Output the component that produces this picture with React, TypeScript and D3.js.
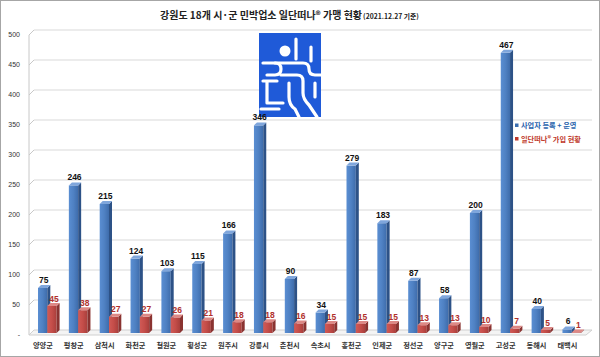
import React from 'react';
import * as d3 from 'd3';

const categories = ['양양군','평창군','삼척시','화천군','철원군','횡성군','원주시','강릉시','춘천시','속초시','홍천군','인제군','정선군','양구군','영월군','고성군','동해시','태백시'];
const registered = [75,246,215,124,103,115,166,346,90,34,279,183,87,58,200,467,40,6];
const members = [45,38,27,27,26,21,18,18,16,15,15,15,13,13,10,7,5,1];
const yTicks = [0,50,100,150,200,250,300,350,400,450,500];
const yTickLabels = ['-','50','100','150','200','250','300','350','400','450','500'];
const seriesNames = ['사업자 등록 + 운영', '일단떠나® 가입 현황'];

const W = 600, H = 357;
const DX = 3, DY = 3;

function Bar3D({ x, w, y0, y1, front, side, top, gid }: any) {
  const h = y0 - y1;
  return (
    <g>
      <rect x={x} y={y1} width={w} height={h} fill={`url(#${gid})`} />
      <path d={`M${x + w},${y1} L${x + w + DX},${y1 - DY} L${x + w + DX},${y0 - DY} L${x + w},${y0} Z`} fill={side} />
      <path d={`M${x},${y1} L${x + DX},${y1 - DY} L${x + w + DX},${y1 - DY} L${x + w},${y1} Z`} fill={top} />
    </g>
  );
}

export default function App() {
  const x = d3.scaleBand<string>().domain(categories).range([27.5, 27.5 + 30.85 * 18]);
  const y = d3.scaleLinear().domain([0, 500]).range([333, 33]);
  const font = "'Noto Sans CJK KR', 'Liberation Sans', sans-serif";
  const numFont = "'Liberation Sans', Arial, sans-serif";
  const bw = 9.3;

  return (
    <svg width={W} height={H} style={{ position: 'absolute', left: 0, top: 0, background: '#fff' }}>
      <defs>
        <linearGradient id="gBlue" x1="0" x2="1" y1="0" y2="0">
          <stop offset="0" stopColor="#5a8ed2" />
          <stop offset="0.5" stopColor="#4f81c3" />
          <stop offset="1" stopColor="#3e6cab" />
        </linearGradient>
        <linearGradient id="gRed" x1="0" x2="1" y1="0" y2="0">
          <stop offset="0" stopColor="#d05a56" />
          <stop offset="0.5" stopColor="#c44d49" />
          <stop offset="1" stopColor="#a83f3c" />
        </linearGradient>
      </defs>
      <rect x={0.5} y={0.5} width={W - 1} height={H - 1} fill="#fff" stroke="#a6a6a6" />

      {/* title */}
      <text x={160} y={19} fontFamily={font} fontSize={10} fontWeight="bold" fill="#222">
        강원도 18개 시·군 민박업소 일단떠나® 가맹 현황
        <tspan fontSize={6.8} fontWeight="bold" dx={1}>(2021.12.27 기준)</tspan>
      </text>

      {/* walls / gridlines */}
      <line x1={29} y1={y(500) + 2} x2={29} y2={y(0) + 2} stroke="#c8c8c8" />
      {yTicks.map((t) => (
        <g key={t}>
          <line x1={29} y1={y(t) + 2} x2={34} y2={y(t) - 3} stroke="#c8c8c8" />
          {t > 0 && <line x1={34} y1={y(t) - 3} x2={592} y2={y(t) - 3} stroke="#d9d9d9" />}
        </g>
      ))}
      <path d={`M29,${y(0) + 2} L586,${y(0) + 2} L592,${y(0) - 3} L34,${y(0) - 3} Z`} fill="#f4f4f4" stroke="#d0d0d0" />

      {/* y tick labels */}
      {yTicks.map((t, i) => (
        <text key={t} x={20} y={y(t) + 3.5} textAnchor="end" fontFamily={numFont} fontSize={7} fill="#333">{yTickLabels[i]}</text>
      ))}

      {/* logo */}
      <g transform="translate(259,33)">
        <rect width={62} height={84} fill="#1f5ad8" />
        <g fill="none" stroke="#fff" strokeWidth={3.2} strokeLinecap="round" strokeLinejoin="round">
          <path d="M37,6 V26" />
          <path d="M52,14 V28" />
          <path d="M4,30 H16 Q22,30 22,36 Q22,42 16,42 H8" />
          <path d="M16,30 H44 Q50,30 50,36 Q50,42 56,42 H62" />
          <path d="M22,42 H38 Q44,42 44,48 V60 Q44,66 50,72 L58,84" />
          <path d="M4,48 H18 M8,48 V70 H24" />
          <path d="M30,50 V64 Q30,72 36,76 L40,84" />
          <path d="M56,50 V64" />
          <path d="M2,76 H20" />
        </g>
        <circle cx={26} cy={18} r={5.5} fill="#fff" />
      </g>

      {/* bars */}
      {categories.map((c, i) => {
        const bx = (x(c) as number) + 10.5;
        const rx = bx + bw;
        const yb = y(registered[i]);
        const yr = y(members[i]);
        return (
          <g key={c}>
            <Bar3D x={bx} w={bw} y0={y(0)} y1={yb} gid="gBlue" side="#2d5287" top="#7fa6dc" />
            <Bar3D x={rx} w={bw} y0={y(0)} y1={yr} gid="gRed" side="#8a3331" top="#dd8885" />
            <text x={bx + bw / 2 + 1} y={yb - 5} textAnchor="middle" fontFamily={numFont} fontSize={8.5} fontWeight="bold" fill="#111">{registered[i]}</text>
            <text x={rx + bw / 2 + 2} y={yr - 4.5} textAnchor="middle" fontFamily={numFont} fontSize={8.5} fontWeight="bold" fill="#b0302c">{members[i]}</text>
          </g>
        );
      })}

      {/* x labels */}
      {categories.map((c) => (
        <text key={c} x={(x(c) as number) + x.bandwidth() / 2} y={348} textAnchor="middle" fontFamily={font} fontSize={7.2} fontWeight="bold" fill="#333">{c}</text>
      ))}

      {/* legend */}
      <rect x={515} y={123.5} width={3.5} height={3.5} fill="#3b6eb0" />
      <text x={521} y={128} fontFamily={font} fontSize={7.2} fontWeight="bold" fill="#2a64ad">{seriesNames[0]}</text>
      <rect x={515} y={137} width={3.5} height={3.5} fill="#c0392b" />
      <text x={521} y={141.5} fontFamily={font} fontSize={7.2} fontWeight="bold" fill="#c0392b">{seriesNames[1]}</text>
    </svg>
  );
}
